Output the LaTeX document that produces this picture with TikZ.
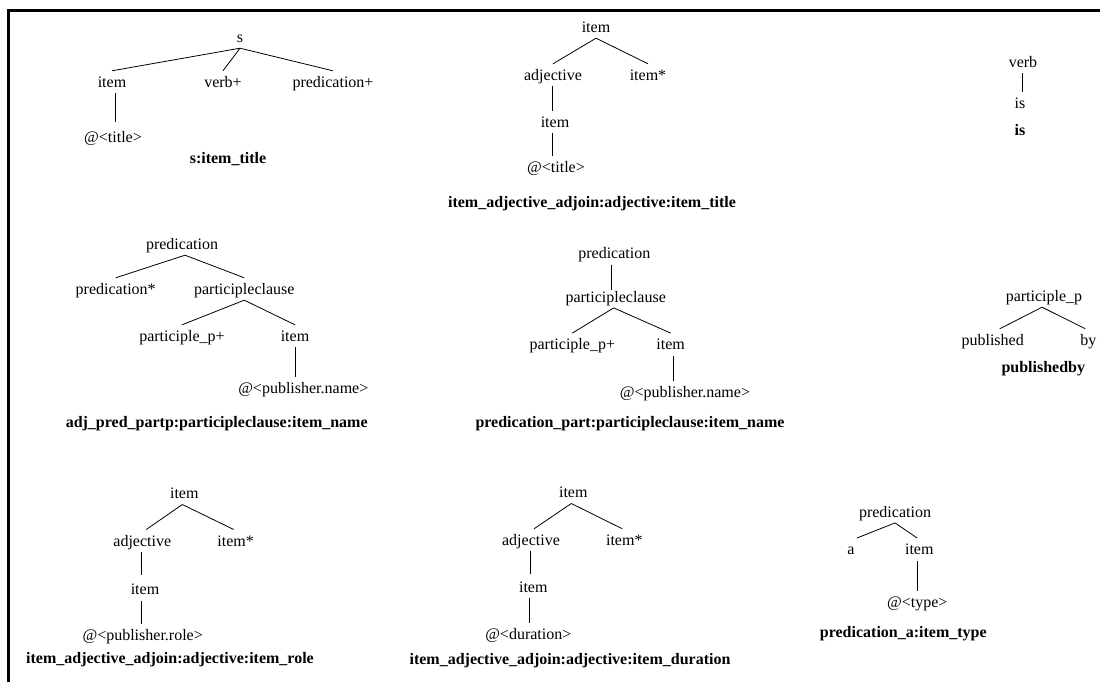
\documentclass[tikz,border=0pt]{standalone}
\usepackage{fontspec}
\setmainfont{Liberation Serif}
\tikzset{
  lbl/.style={inner xsep=0pt, inner ysep=4pt, text height=12.5pt, text depth=1.5pt, font=\fontsize{16}{19}\selectfont},
  ttl/.style={lbl, font=\fontsize{16}{19}\selectfont\bfseries},
  edge/.style={line width=0.8pt},
  frame/.style={line width=3pt}
}
\begin{document}
\begin{tikzpicture}[x=1pt,y=-1pt]
\useasboundingbox (0,0) rectangle (1100,682);
\draw[frame] (8.5,682) -- (8.5,10.5) -- (1100,10.5);

% Panel 1
\node[lbl] (p1s) at (240,37) {s};
\node[lbl] (p1item) at (112,82) {item};
\node[lbl] (p1verb) at (223,82) {verb+};
\node[lbl] (p1pred) at (333,82) {predication+};
\node[lbl] (p1title) at (113,137) {@<title>};
\node[ttl] (p1name) at (228,158) {s:item\_title};
\draw[edge] (p1s.south) -- (p1item.north);
\draw[edge] (p1s.south) -- (p1verb.north);
\draw[edge] (p1s.south) -- (p1pred.north);
\draw[edge] ([xshift=3pt]p1item.south) -- ([xshift=3pt,yshift=4pt]p1item.south |- p1title.north);

% Panel 2
\node[lbl] (p2item) at (596,27) {item};
\node[lbl] (p2adj) at (553,75) {adjective};
\node[lbl] (p2star) at (648,75) {item*};
\node[lbl] (p2item2) at (555,122) {item};
\node[lbl] (p2title) at (556,167) {@<title>};
\node[ttl] (p2name) at (592,202) {item\_adjective\_adjoin:adjective:item\_title};
\draw[edge] (p2item.south) -- (p2adj.north);
\draw[edge] (p2item.south) -- (p2star.north);
\draw[edge] ([xshift=-1pt]p2adj.south) -- ([xshift=-1pt]p2adj.south |- p2item2.north);
\draw[edge] ([xshift=-3pt]p2item2.south) -- ([xshift=-3pt]p2item2.south |- p2title.north);

% Panel 3
\node[lbl] (p3verb) at (1023,62) {verb};
\node[lbl] (p3is) at (1020,103) {is};
\node[ttl] (p3name) at (1020,130) {is};
\draw[edge] ([xshift=-1pt]p3verb.south) -- ([xshift=-1pt]p3verb.south |- p3is.north);

% Panel 4
\node[lbl] (p4pred) at (182,244) {predication};
\node[lbl] (p4star) at (115.7,289) {predication*};
\node[lbl] (p4pc) at (244.3,289) {participleclause};
\node[lbl] (p4pp) at (182,336) {participle\_p+};
\node[lbl] (p4item) at (295,336) {item};
\node[lbl] (p4pub) at (303.3,388.3) {@<publisher.name>};
\node[ttl] (p4name) at (216.7,421.7) {adj\_pred\_partp:participleclause:item\_name};
\draw[edge] ([xshift=3pt]p4pred.south) -- (p4star.north);
\draw[edge] ([xshift=3pt]p4pred.south) -- (p4pc.north);
\draw[edge] (p4pc.south) -- (p4pp.north);
\draw[edge] (p4pc.south) -- (p4item.north);
\draw[edge] (p4item.south) -- (p4item.south |- p4pub.north);

% Panel 5
\node[lbl] (p5pred) at (614.3,253.3) {predication};
\node[lbl] (p5pc) at (615.7,296.7) {participleclause};
\node[lbl] (p5pp) at (572.3,344.3) {participle\_p+};
\node[lbl] (p5item) at (670.7,344.3) {item};
\node[lbl] (p5pub) at (685,391.7) {@<publisher.name>};
\node[ttl] (p5name) at (630,421.7) {predication\_part:participleclause:item\_name};
\draw[edge] ([xshift=-3pt]p5pred.south) -- ([xshift=-3pt,yshift=-4pt]p5pred.south |- p5pc.north);
\draw[edge] ([xshift=-2pt]p5pc.south) -- (p5pp.north);
\draw[edge] ([xshift=-2pt]p5pc.south) -- (p5item.north);
\draw[edge] ([xshift=3pt]p5item.south) -- ([xshift=3pt]p5item.south |- p5pub.north);

% Panel 6
\node[lbl] (p6pp) at (1044,296) {participle\_p};
\node[lbl] (p6pub) at (992.7,340) {published};
\node[lbl] (p6by) at (1088.3,340) {by};
\node[ttl] (p6name) at (1043.3,367.3) {publishedby};
\draw[edge] ([xshift=-2pt]p6pp.south) -- ([xshift=7pt]p6pub.north);
\draw[edge] ([xshift=-2pt]p6pp.south) -- ([xshift=-3pt]p6by.north);

% Panel 7
\node[lbl] (p7item) at (184.3,493.3) {item};
\node[lbl] (p7adj) at (142.3,540.7) {adjective};
\node[lbl] (p7star) at (235.7,540.7) {item*};
\node[lbl] (p7item2) at (145,589.3) {item};
\node[lbl] (p7role) at (142.7,635) {@<publisher.role>};
\node[ttl] (p7name) at (170,658.3) {item\_adjective\_adjoin:adjective:item\_role};
\draw[edge] ([xshift=-2pt]p7item.south) -- ([xshift=4pt]p7adj.north);
\draw[edge] ([xshift=-2pt]p7item.south) -- ([xshift=-2pt]p7star.north);
\draw[edge] ([xshift=-1pt]p7adj.south) -- ([xshift=-1pt,yshift=3pt]p7adj.south |- p7item2.north);
\draw[edge] ([xshift=-4pt]p7item2.south) -- ([xshift=-4pt]p7item2.south |- p7role.north);

% Panel 8
\node[lbl] (p8item) at (573.3,492.3) {item};
\node[lbl] (p8adj) at (531,540) {adjective};
\node[lbl] (p8star) at (624.3,540) {item*};
\node[lbl] (p8item2) at (533.3,586.7) {item};
\node[lbl] (p8dur) at (528.3,634.3) {@<duration>};
\node[ttl] (p8name) at (570,659.3) {item\_adjective\_adjoin:adjective:item\_duration};
\draw[edge] ([xshift=-2pt]p8item.south) -- ([xshift=3pt]p8adj.north);
\draw[edge] ([xshift=-2pt]p8item.south) -- ([xshift=-2pt]p8star.north);
\draw[edge] ([xshift=-1pt]p8adj.south) -- ([xshift=-1pt,yshift=2pt]p8adj.south |- p8item2.north);
\draw[edge] ([xshift=-4pt]p8item2.south) -- ([xshift=-4pt]p8item2.south |- p8dur.north);

% Panel 9
\node[lbl] (p9pred) at (895,511.7) {predication};
\node[lbl] (p9a) at (851,549.3) {a};
\node[lbl] (p9item) at (919.3,549.3) {item};
\node[lbl] (p9type) at (917.3,601.7) {@<type>};
\node[ttl] (p9name) at (903.3,631.7) {predication\_a:item\_type};
\draw[edge] (p9pred.south) -- ([xshift=2pt]p9a.north east);
\draw[edge] (p9pred.south) -- ([xshift=-2pt]p9item.north);
\draw[edge] ([xshift=-1.5pt]p9item.south) -- ([xshift=-1.5pt]p9item.south |- p9type.north);
\end{tikzpicture}
\end{document}
